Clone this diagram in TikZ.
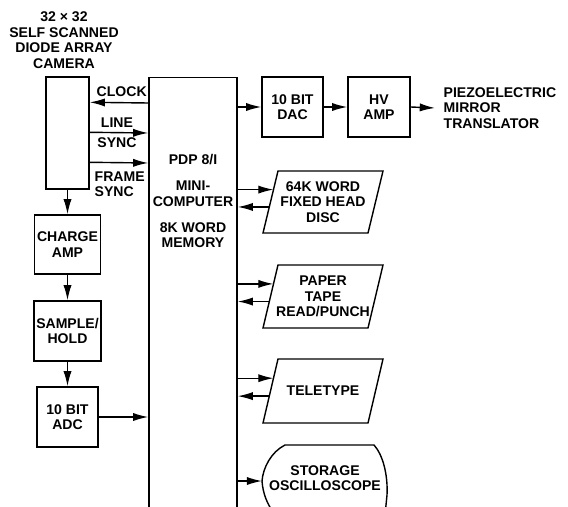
\documentclass[tikz,border=0pt]{standalone}
\usepackage{fontspec}
\setmainfont{Liberation Sans}
\usetikzlibrary{arrows.meta, positioning, calc}

\begin{document}
\begin{tikzpicture}[
  x=0.03cm, y=-0.03cm, line width=1.2pt,
  every node/.style={font=\fontsize{12}{13.2}\selectfont\bfseries},
  blk/.style={draw, minimum width=1.83cm, minimum height=1.8cm, align=center, inner sep=2pt},
  io/.style={minimum width=3.6cm, minimum height=1.86cm, inner sep=0pt, outer sep=0pt, align=center},
  lbl/.style={inner sep=0pt, align=left},
  arr/.style={-{Latex[length=13pt, width=7pt]}}
]
  \useasboundingbox (0,0) rectangle (568,506);
  \clip (0,0) rectangle (568,506);

  % camera chain
  \node[align=center] (title) at (64,40) {32 × 32\\SELF SCANNED\\DIODE ARRAY\\CAMERA};
  \node[blk, minimum width=1.29cm, minimum height=3.36cm] (camera) at (67.5,133) {};
  \node[blk, minimum height=1.77cm] (charge) at (67.5,244.5) {CHARGE\\AMP};
  \node[blk] (samplehold) at (67.5,331) {SAMPLE/\\HOLD};
  \node[blk] (adc) at (67.5,417) {10 BIT\\ADC};

  % computer
  \node[draw, minimum width=2.64cm, minimum height=13.59cm, anchor=north] (pdp) at (193,77) {};
  \node[align=center] (pdptext) at (193,201) {PDP 8/I\\[9pt]MINI-\\COMPUTER\\[9pt]8K WORD\\MEMORY};

  % outputs
  \node[blk] (dac) at (292.5,107) {10 BIT\\DAC};
  \node[blk, minimum width=1.86cm] (hvamp) at (379,107) {HV\\AMP};
  \node[lbl, anchor=west, inner xsep=0.24cm] (piezo) at (435,108) {PIEZOELECTRIC\\MIRROR\\TRANSLATOR};
  \node[io] (disc) at (323,202) {64K WORD\\FIXED HEAD\\DISC};
  \node[io, minimum height=1.89cm] (tape) at (323,296.5) {PAPER\\TAPE\\READ/PUNCH};
  \node[io, minimum height=1.92cm] (teletype) at (323,391) {TELETYPE};
  \foreach \dev in {disc,tape,teletype} {
    \coordinate (\dev-tl) at ($(\dev.north west)+(15,0)$);
    \coordinate (\dev-br) at ($(\dev.south east)+(-15,0)$);
    \draw (\dev-tl) -- (\dev.north east) -- (\dev-br) -- (\dev.south west) -- cycle;
    \coordinate (\dev-out) at ($(\dev.south west)!0.7!(\dev-tl)$);
    \coordinate (\dev-in) at ($(\dev.south west)!0.42!(\dev-tl)$);
  }
  \coordinate (scopetip) at (262,481);
  \draw (scopetip) .. controls (263,468) and (271,452) .. (285,445) -- (374,445)
    .. controls (383,455) and (388,475) .. (387,495) -- (385,515);
  \draw (scopetip) .. controls (263,494) and (267,503) .. (273,512);
  \node[align=center] (scope) at (325,478) {STORAGE\\OSCILLOSCOPE};

  % signal labels
  \node[lbl, anchor=west] (clocklbl) at (96,92) {CLOCK};
  \node[lbl, align=center] (linelbl) at (117,133) {LINE\\[4pt]SYNC};
  \node[lbl, anchor=north west] (framelbl) at (94,171) {FRAME\\SYNC};

  % connections
  \draw[arr] ($(pdp.north west)+(0,26)$) -- ($(camera.north east)+(0,26)$);
  \draw[arr] ($(camera.north east)+(0,56)$) -- ($(pdp.north west)+(0,56)$);
  \draw[arr] ($(camera.north east)+(0,86)$) -- ($(pdp.north west)+(0,86)$);
  \draw[arr] (camera) -- (charge);
  \draw[arr] (charge) -- (samplehold);
  \draw[arr] (samplehold) -- (adc);
  \draw[arr] (adc) -- (adc -| pdp.west);
  \draw[arr] (pdp.east |- dac) -- (dac);
  \draw[arr] (dac) -- (hvamp);
  \draw[arr] (hvamp.east) -- (piezo.west);
  \foreach \dev in {disc,tape,teletype} {
    \draw[arr] (pdp.east |- \dev-out) -- (\dev-out);
    \draw[arr] (\dev-in) -- (pdp.east |- \dev-in);
  }
  \draw[arr] (pdp.east |- scopetip) -- (scopetip);
\end{tikzpicture}
\end{document}
